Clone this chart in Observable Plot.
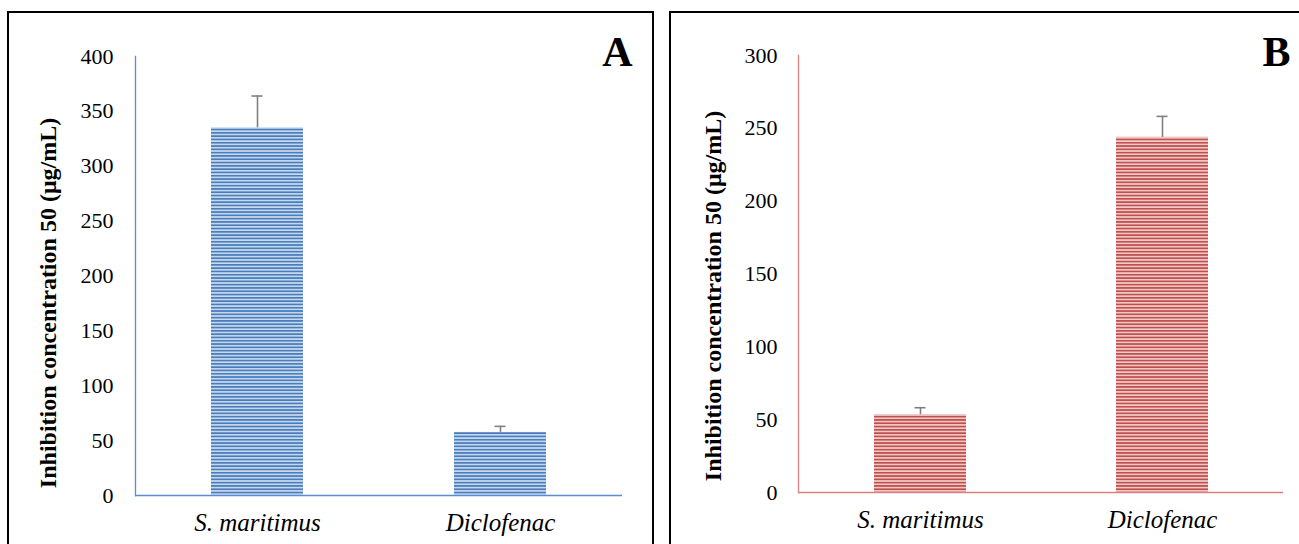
<!DOCTYPE html>
<html>
<head>
<meta charset="utf-8">
<script src="https://cdn.jsdelivr.net/npm/d3@7"></script>
<script src="https://cdn.jsdelivr.net/npm/@observablehq/plot@0.6"></script>
<style>
  html, body { margin: 0; padding: 0; background: #fff; width: 1299px; height: 544px; overflow: hidden; position: relative; }
  .frame { position: absolute; border: 2px solid #000; box-sizing: border-box; }
  .chart { position: absolute; top: 0; }
  svg { font-family: "Liberation Serif", "Times New Roman", serif; overflow: visible; }
</style>
</head>
<body>
<div class="frame" style="left:7px; top:11px; width:647px; height:600px;"></div>
<div class="frame" style="left:669px; top:11px; width:700px; height:600px;"></div>
<div id="a" class="chart" style="left:0px;"></div>
<div id="b" class="chart" style="left:660px;"></div>
<script>
const categories = ["S. maritimus", "Diclofenac"];
const valuesA = [335, 57.5];
const errorsA = [29, 5.5];
const valuesB = [53.4, 243.8];
const errorsB = [4.8, 14.4];
const ticksA = [0, 50, 100, 150, 200, 250, 300, 350, 400];
const ticksB = [0, 50, 100, 150, 200, 250, 300];
const yTitle = "Inhibition concentration 50 (μg/mL)";

function addPattern(svg, id, light, dark) {
  const ns = "http://www.w3.org/2000/svg";
  const defs = document.createElementNS(ns, "defs");
  const pat = document.createElementNS(ns, "pattern");
  pat.setAttribute("id", id);
  pat.setAttribute("patternUnits", "userSpaceOnUse");
  pat.setAttribute("width", "10");
  pat.setAttribute("height", "3.3");
  const r1 = document.createElementNS(ns, "rect");
  r1.setAttribute("width", "10"); r1.setAttribute("height", "3.3"); r1.setAttribute("fill", light);
  const r2 = document.createElementNS(ns, "rect");
  r2.setAttribute("width", "10"); r2.setAttribute("height", "1.7"); r2.setAttribute("fill", dark);
  pat.appendChild(r1); pat.appendChild(r2);
  defs.appendChild(pat);
  svg.insertBefore(defs, svg.firstChild);
}

function panel(opts) {
  const data = categories.map((c, i) => ({cat: c, v: opts.values[i], e: opts.errors[i], top: opts.values[i] + opts.errors[i]}));
  const chart = Plot.plot({
    width: opts.width,
    height: 544,
    marginLeft: opts.ml,
    marginRight: opts.mr,
    marginTop: opts.mt,
    marginBottom: opts.mb,
    style: {fontFamily: '"Liberation Serif", "Times New Roman", serif', background: "transparent", overflow: "visible"},
    x: {domain: categories, paddingInner: 0.62, paddingOuter: 0.31, label: null},
    y: {domain: opts.domain, ticks: opts.ticks, label: null},
    marks: [
      Plot.barY(data, {x: "cat", y: "v", fill: `url(#${opts.pid})`}),
      Plot.ruleX(data, {x: "cat", y1: "v", y2: "top", stroke: "#808080", strokeWidth: 1.6}),
      Plot.tickY(data, {x: "cat", y: "top", stroke: "#808080", strokeWidth: 1.6, insetLeft: 40.5, insetRight: 40.5}),
      Plot.ruleY([0], {stroke: opts.axis, strokeWidth: 1.3}),
      Plot.frame({anchor: "left", stroke: opts.axis, strokeWidth: 1.3}),
      Plot.axisY({ticks: opts.ticks, tickSize: 0, tickPadding: opts.tp, fontSize: 22, label: null, fill: "#000"}),
      Plot.axisX({tickSize: 0, tickPadding: 18, fontSize: 25, fontStyle: "italic", label: null, fill: "#000"}),
      Plot.text([yTitle], {frameAnchor: "left", textAnchor: "middle", lineAnchor: "middle", rotate: -90, dx: opts.tdx, dy: opts.tdy, fontSize: 24, fontWeight: "bold", fill: "#000"}),
      Plot.text([opts.letter], {frameAnchor: "top-right", textAnchor: "end", lineAnchor: "bottom", dx: opts.ldx, dy: opts.ldy, fontSize: 42, fontWeight: "bold", fill: "#000"})
    ]
  });
  addPattern(chart, opts.pid, opts.light, opts.dark);
  return chart;
}

document.getElementById("a").appendChild(panel({
  width: 660, ml: 135, mr: 38, mt: 56, mb: 49,
  values: valuesA, errors: errorsA, domain: [0, 400], ticks: ticksA,
  axis: "#5b8bd0", pid: "patA", light: "#c9daf0", dark: "#4a7ebb",
  tp: 22, tdx: -87, tdy: 27, letter: "A", ldx: 10, ldy: 9
}));
document.getElementById("b").appendChild(panel({
  width: 639, ml: 138, mr: 16, mt: 55, mb: 52,
  values: valuesB, errors: errorsB, domain: [0, 300], ticks: ticksB,
  axis: "#d98080", pid: "patB", light: "#f3cccb", dark: "#c0504d",
  tp: 21, tdx: -85, tdy: 22, letter: "B", ldx: 7, ldy: 10
}));
</script>
</body>
</html>
